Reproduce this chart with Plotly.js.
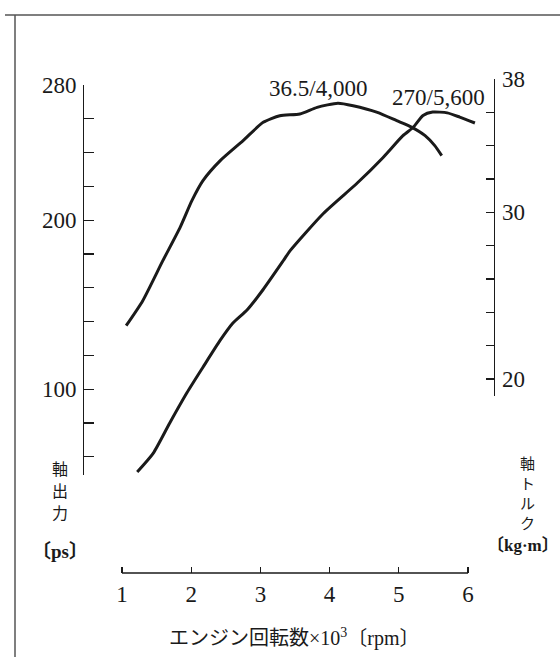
<!DOCTYPE html>
<html>
<head>
<meta charset="utf-8">
<script src="https://cdn.plot.ly/plotly-3.0.1.min.js"></script>
<style>html,body{margin:0;padding:0;background:#fff;}#chart{width:560px;height:657px;}</style>
</head>
<body>
<div id="chart"></div>
<script>
// Engine speed (x1000 rpm)
const torqueRpm = [1.06, 1.30, 1.59, 1.84, 2.01, 2.17, 2.42, 2.75, 3.04, 3.28, 3.57, 3.82, 4.12, 4.34, 4.69, 4.97, 5.19, 5.38, 5.52, 5.62];
// Shaft torque (kg·m)
const torqueVal = [23.2, 24.7, 27.1, 29.1, 30.7, 31.9, 33.1, 34.3, 35.4, 35.8, 35.9, 36.3, 36.55, 36.4, 36.0, 35.5, 35.1, 34.6, 34.0, 33.4];
// Engine speed (x1000 rpm)
const powerRpm = [1.22, 1.45, 1.69, 1.94, 2.17, 2.42, 2.60, 2.81, 3.04, 3.33, 3.43, 3.91, 4.40, 4.77, 5.06, 5.21, 5.35, 5.49, 5.70, 5.88, 6.10];
// Shaft power (ps)
const powerVal = [51, 62, 80, 98, 113, 129, 139, 147, 159, 176, 182, 204, 222, 237, 250, 255, 262, 264, 263.5, 261, 257.5];

const xTickVals = [1, 2, 3, 4, 5, 6];
const xTickText = ['1', '2', '3', '4', '5', '6'];
const psTickVals = [60, 80, 100, 120, 140, 160, 180, 200, 220, 240, 260, 280];
const psTickText = ['', '', '100', '', '', '', '', '200', '', '', '', '280'];
const tqTickVals = [20, 22, 24, 26, 28, 30, 32, 34, 36, 38];
const tqTickText = ['20', '', '', '', '', '30', '', '', '', '38'];

const psTitleChars = ['軸', '出', '力'];
const tqTitleChars = ['軸', 'ト', 'ル', 'ク'];

const serif = 'Liberation Serif, Noto Sans CJK JP, serif';
const cjk = 'Noto Sans CJK JP, Liberation Serif, sans-serif';
const ink = '#1a1a1a';

const traces = [
  {x: torqueRpm, y: torqueVal, xaxis: 'x', yaxis: 'y2', mode: 'lines', type: 'scatter',
   line: {color: ink, width: 3, shape: 'spline', smoothing: 0.6}, hoverinfo: 'skip'},
  {x: powerRpm, y: powerVal, xaxis: 'x', yaxis: 'y', mode: 'lines', type: 'scatter',
   line: {color: ink, width: 3, shape: 'spline', smoothing: 0.6}, hoverinfo: 'skip'}
];

const W = 560, H = 657;
const xPx1 = 122, xPxPerUnit = 69.2;
const xRange = [0.85, 6.25];
const xDom = [(xPx1 + (xRange[0] - 1) * xPxPerUnit) / W, (xPx1 + (xRange[1] - 1) * xPxPerUnit) / W];
const xAxisPos = 1 - 573 / H;

function label(text, px, py, font) {
  return {text: text, xref: 'paper', yref: 'paper', x: px / W, y: 1 - py / H,
          xanchor: 'center', yanchor: 'middle', showarrow: false, borderpad: 0, font: font};
}

const annotations = [
  {text: '36.5/4,000', xref: 'x', yref: 'y2', x: 3.83, y: 37.4, xanchor: 'center', yanchor: 'middle', showarrow: false, font: {family: serif, size: 23, color: ink}},
  {text: '270/5,600', xref: 'x', yref: 'y', x: 5.57, y: 272.9, xanchor: 'center', yanchor: 'middle', showarrow: false, font: {family: serif, size: 23, color: ink}},
  label('エンジン回転数×10<sup>3</sup>〔rpm〕', 294, 637, {family: serif, size: 20, color: ink}),
  label('<b>〔ps〕</b>', 60, 551, {family: serif, size: 19, color: ink}),
  label('<b>〔kg·m〕</b>', 523, 545, {family: serif, size: 17, color: ink})
];
const psY = [468, 490, 512];
psTitleChars.forEach((c, i) => annotations.push(label(c, 60, psY[i], {family: cjk, size: 16, color: ink})));
const tqY = [462, 482, 502, 522];
tqTitleChars.forEach((c, i) => annotations.push(label(c, 527, tqY[i], {family: cjk, size: 15, color: ink})));

const layout = {
  width: W, height: H,
  margin: {l: 0, r: 0, t: 0, b: 0},
  paper_bgcolor: '#fff', plot_bgcolor: 'rgba(0,0,0,0)',
  showlegend: false,
  font: {family: serif, color: ink},
  xaxis: {
    range: xRange, domain: xDom, anchor: 'free', position: xAxisPos,
    showline: false, showgrid: false, zeroline: false,
    tickmode: 'array', tickvals: xTickVals, ticktext: xTickText,
    ticks: 'inside', ticklen: 6, tickwidth: 1.3, tickcolor: ink,
    tickfont: {family: serif, size: 23, color: ink}, ticklabelstandoff: 5,
    fixedrange: true
  },
  yaxis: {
    range: [49.23, 280], domain: [1 - 475 / H, 1 - 85 / H],
    anchor: 'free', position: 83 / W, side: 'left',
    showline: true, linewidth: 1.3, linecolor: ink,
    showgrid: false, zeroline: false,
    tickmode: 'array', tickvals: psTickVals, ticktext: psTickText,
    ticks: 'inside', ticklen: 10, tickwidth: 1.3, tickcolor: ink,
    tickfont: {family: serif, size: 23, color: ink}, ticklabelstandoff: 2,
    fixedrange: true
  },
  yaxis2: {
    range: [19.0, 38], domain: [1 - 395.7 / H, 1 - 79 / H],
    anchor: 'free', position: 494 / W, side: 'right',
    showline: true, linewidth: 1.3, linecolor: ink,
    showgrid: false, zeroline: false,
    tickmode: 'array', tickvals: tqTickVals, ticktext: tqTickText,
    ticks: 'inside', ticklen: 8, tickwidth: 1.3, tickcolor: ink,
    tickfont: {family: serif, size: 23, color: ink}, ticklabelstandoff: 2,
    fixedrange: true
  },
  shapes: [
    {type: 'line', xref: 'x', yref: 'paper', x0: 1, x1: 6, y0: xAxisPos, y1: xAxisPos, line: {color: ink, width: 1.3}},
    {type: 'line', xref: 'paper', yref: 'paper', x0: 5 / W, x1: 1, y0: 1 - 15 / H, y1: 1 - 15 / H, line: {color: '#555', width: 1.5}},
    {type: 'line', xref: 'paper', yref: 'paper', x0: 15 / W, x1: 15 / W, y0: 1 - 15 / H, y1: 0, line: {color: '#555', width: 1.5}}
  ],
  annotations: annotations
};

Plotly.newPlot('chart', traces, layout, {staticPlot: true, displayModeBar: false});
</script>
</body>
</html>
